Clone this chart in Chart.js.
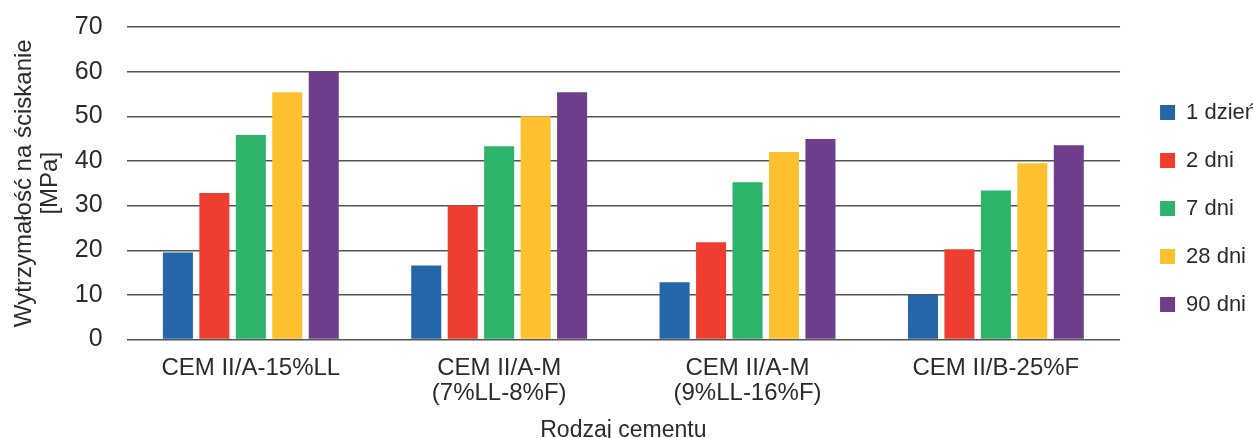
<!DOCTYPE html>
<html>
<head>
<meta charset="utf-8">
<script src="https://cdn.jsdelivr.net/npm/chart.js@4/dist/chart.umd.min.js"></script>
<style>
  html, body { margin: 0; padding: 0; background: #fff; }
  #wrap { width: 1253px; height: 438px; }
</style>
</head>
<body>
<div id="wrap"><canvas id="myChart"></canvas></div>
<script>
const categories = [
  "CEM II/A-15%LL",
  ["CEM II/A-M", "(7%LL-8%F)"],
  ["CEM II/A-M", "(9%LL-16%F)"],
  "CEM II/B-25%F",
];
const seriesNames = ["1 dzień", "2 dni", "7 dni", "28 dni", "90 dni"];
const day1 = [19.5, 16.6, 12.8, 10.0];
const day2 = [32.8, 30.0, 21.8, 20.2];
const day7 = [45.8, 43.3, 35.2, 33.4];
const day28 = [55.4, 50.0, 42.0, 39.5];
const day90 = [60.0, 55.4, 44.9, 43.5];
const colors = ["#2566a8", "#ef3e2f", "#2eb46a", "#fdc12f", "#6e3e8c"];

const FONT = "'Liberation Sans', Arial, sans-serif";
const TEXT = "#2b2b2b";

// nudge the legend a bit so it sits where the original has it
const legendShift = {
  id: "legendShift",
  afterLayout(chart) {
    const lg = chart.legend;
    if (!lg) return;
    lg.left += 14;
    lg.right += 14;
    lg.top -= 27;
    lg.bottom -= 27;
  },
};

var ctx = document.getElementById("myChart").getContext("2d");
var myChart = new Chart(ctx, {
  type: "bar",
  data: {
    labels: categories,
    datasets: [day1, day2, day7, day28, day90].map((d, i) => ({
      label: seriesNames[i],
      data: d,
      backgroundColor: colors[i],
      borderWidth: 0,
      barPercentage: 0.824,
      categoryPercentage: 0.734,
    })),
  },
  options: {
    responsive: true,
    maintainAspectRatio: false,
    animation: false,
    layout: {
      padding: { top: 27, left: 11, right: 0, bottom: -6 },
    },
    scales: {
      x: {
        grid: {
          color: "transparent",
          drawTicks: true,
          tickLength: 12,
          tickColor: "transparent",
        },
        border: { display: false },
        ticks: {
          color: TEXT,
          font: { family: FONT, size: 24, lineHeight: 1.04 },
          padding: 4,
          maxRotation: 0,
        },
        title: {
          display: true,
          text: "Rodzaj cementu",
          color: TEXT,
          font: { family: FONT, size: 23 },
          padding: { top: 7, bottom: 0 },
        },
      },
      y: {
        min: 0,
        max: 70,
        ticks: {
          stepSize: 10,
          color: TEXT,
          font: { family: FONT, size: 25 },
          padding: 4,
        },
        grid: {
          color: "#555",
          lineWidth: 1.4,
          drawTicks: true,
          tickLength: 20,
          tickColor: "transparent",
        },
        border: { display: false },
        title: {
          display: true,
          text: ["Wytrzymałość na ściskanie", "[MPa]"],
          color: TEXT,
          font: { family: FONT, size: 24, lineHeight: 1.08 },
          padding: { top: 0, bottom: 8 },
        },
      },
    },
    plugins: {
      legend: {
        position: "right",
        labels: {
          color: TEXT,
          font: { family: FONT, size: 22 },
          boxWidth: 15,
          boxHeight: 15,
          padding: 26,
        },
      },
      tooltip: { enabled: false },
    },
  },
  plugins: [legendShift],
});
</script>
</body>
</html>
